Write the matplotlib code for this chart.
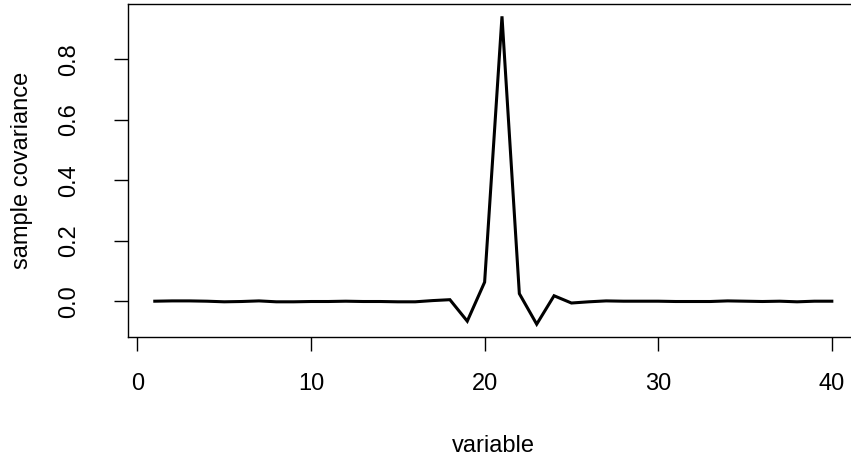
import numpy as np
import matplotlib
matplotlib.use("Agg")
import matplotlib.pyplot as plt

plt.rcParams['font.family'] = ['Liberation Sans', 'DejaVu Sans']

# sample covariance of variable 21 with each of the 40 variables
variable = list(range(1, 41))
covariance = [0.000, 0.001, 0.001, 0.000, -0.002, -0.001, 0.001, -0.002, -0.002, -0.001,
              -0.001, 0.000, -0.001, -0.001, -0.002, -0.002, 0.002, 0.005, -0.066, 0.063,
              0.942, 0.025, -0.076, 0.018, -0.006, -0.002, 0.001, 0.000, 0.000, 0.000,
              -0.001, -0.001, -0.001, 0.001, 0.000, -0.001, 0.000, -0.002, 0.000, 0.000]
xticks = [0, 10, 20, 30, 40]
yticks = [0.0, 0.2, 0.4, 0.6, 0.8]

W, H, dpi = 851, 459, 100
fig = plt.figure(figsize=(W / dpi, H / dpi), dpi=dpi)

# axes box in pixels: left 128, top 4, bottom 336 (right side cut off by the image)
x0, y0 = 127.7, 336.5
xmin = min(variable) - 0.04 * (max(variable) - min(variable))
xmax = max(variable) + 0.04 * (max(variable) - min(variable))
ypad = 0.04 * (max(covariance) - min(covariance))
ymin, ymax = min(covariance) - ypad, max(covariance) + ypad
px_per_x = 17.36
right = x0 + (xmax - xmin) * px_per_x
ax = fig.add_axes([x0 / W, (H - y0) / H, (right - x0) / W, (y0 - 4.0) / H])

ax.plot(variable, covariance, color='black', lw=2.2, solid_joinstyle='miter')
ax.set_xlim(xmin, xmax)
ax.set_ylim(ymin, ymax)

for s in ax.spines.values():
    s.set_linewidth(1.0)

ax.set_xticks(xticks)
ax.set_xticklabels([str(t) for t in xticks])
ax.set_yticks(yticks)
ax.set_yticklabels(['%.1f' % t for t in yticks], rotation=90, va='center')
ax.tick_params(axis='both', direction='out', length=10, width=1.0, labelsize=17)
ax.tick_params(axis='x', pad=16)
ax.tick_params(axis='y', pad=24)

ax.set_xlabel('variable', fontsize=17, labelpad=29)
ax.set_ylabel('sample covariance', fontsize=17, labelpad=18)

fig.savefig('out.png', dpi=dpi)
